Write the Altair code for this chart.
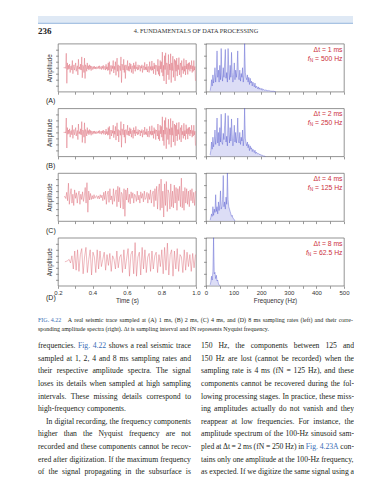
import altair as alt
import pandas as pd

# ---------------- data ----------------
trace_start = [0.232, 0.232, 0.235, 0.240]
trace_end = 0.997

# 1 ms / 2 ms trace (the two look identical at this scale)
trace_a = [
    0, 0, 0, 0.02, -0.03,
    0.6, -0.65, 0.2, -0.08,
    0.1, -0.05, 0.15, -0.2, 0.05, 0.08, -0.1, 0.3, -0.25, 0.05, 0.12, -0.1, 0.04, 0.2, -0.15,
    -0.02, 0.08, -0.3, 0.35, -0.05, 0.03, -0.08,
    0.15, -0.1, 0.45, -0.42, 0.1, 0.05, -0.2, 0.4, -0.45, 0.12, 0.05, -0.15, 0.2, -0.05, 0.08,
    -0.1, 0.12, -0.05, 0.08, -0.12, 0.06, 0.03, -0.08, 0.05, -0.04, 0.06,
    -0.05, 0.03, -0.06, 0.04, 0.02, -0.04, 0.06, -0.03, 0.08, -0.06, 0.02, 0.05, -0.08, 0.06,
    -0.03, 0.1, -0.08, 0.03, 0.06, -0.1, 0.14, -0.06, 0.04, -0.12,
    0.2, -0.1, 0.25, -0.28, 0.05, 0.1, -0.15, 0.08, -0.04, 0.3, -0.22, 0.06, -0.08, 0.25, -0.32, 0.1,
    0.4, -0.15, 0.12, -0.4, 0.08, 0.05, -0.12, 0.45, -0.62, 0.15, 0.05, -0.1, 0.35, -0.2, 0.1,
    -0.45, 0.12, 0.04, -0.1, 0.3, -0.12, 0.06, -0.15, 0.2,
    -0.06, 0.15, -0.2, 0.05, 0.08, -0.25, 0.2, -0.05, 0.1, -0.15, 0.25, -0.04, 0.02, -0.1, 0.12,
    -0.08, 0.05, 0.1, -0.15, 0.06, -0.02, 0.12, -0.2, 0.05, 0.08, -0.1, 0.22, -0.08, 0.03, -0.1,
    0.15, -0.18, 0.05, 0.04, -0.2, 0.25, -0.08, 0.05, -0.12, 0.28, -0.1, 0.06, -0.25, 0.2, -0.05,
    0.12, -0.3, 0.1, 0.05, -0.15, 0.35, -0.28, 0.08, -0.35, 0.3, -0.06,
    0.25, -0.2, 0.65, -0.35, 0.1, -0.55, 0.5, -0.08, 0.62, -0.68, 0.2, 0.1, -0.3, 0.55, -0.5,
    0.15, -0.1, 0.58, -0.62, 0.2, -0.12, 0.48, -0.4, 0.08, 0.35, -0.55, 0.3, -0.15, 0.4,
    -0.35, 0.12, -0.08, 0.42, -0.3, 0.06, 0.2, -0.4, 0.3, -0.1, 0.05, -0.25, 0.38, -0.15, 0.08,
    -0.3, 0.32, -0.06, 0.15, -0.28, 0.2, -0.08, 0.22,
    -0.15, 0.1, -0.05, 0.3, -0.2, 0.08, -0.15, 0.3, -0.1, 0.05, -0.55,
]

trace_c = [
    0, 0.03, -0.06, 0.2, -0.15, 0.58, -0.3, 0.1, 0.35, -0.25,
    0.12, -0.35, 0.3, -0.05, 0.18, -0.25, 0.08, 0.25, -0.3, 0.12,
    -0.1, 0.22, -0.18, 0.05, 0.4, -0.25, 0.6, -0.63, 0.25, -0.12,
    0.15, -0.1, 0.06, -0.08, 0.1, -0.05, 0.03, 0.06, -0.06, 0.05,
    -0.08, 0.1, -0.03, 0.08, -0.15, 0.2, -0.1, 0.25, -0.3, 0.12,
    0.25, -0.22, 0.35, -0.12, 0.05, -0.3, 0.35, -0.18, 0.1, 0.3,
    -0.4, 0.45, -0.2, 0.4, -0.45, 0.2, 0.12, -0.5, 0.35, -0.8,
    0.3, -0.12, 0.38, -0.22, 0.12, -0.28, 0.22, -0.05, 0.18, -0.25,
    0.12, 0.05, -0.18, 0.25, -0.12, 0.08, -0.25, 0.22, -0.05, 0.15,
    -0.2, 0.25, -0.1, -0.03, 0.2, -0.25, 0.15, -0.1, 0.3, -0.25,
    0.1, 0.25, -0.4, 0.35, -0.15, 0.45, -0.5, 0.25, 0.55, -0.55,
    0.75, -0.45, 0.25, -0.83, 0.55, -0.35, 0.65, -0.6, 0.3, 0.15,
    -0.5, 0.55, -0.4, 0.25, -0.45, 0.5, -0.25, 0.4, -0.55, 0.35,
    -0.15, 0.45, -0.4, 0.79, -0.45, 0.25, -0.55, 0.4, -0.25, 0.35,
    -0.3, 0.25, -0.4, 0.3, -0.15, 0.35, -0.25, 0.2, -0.35, 0.25,
]

trace_d = [
    0, 0.02, 0.05, 0.1, -0.05, 0.25, -0.3, 0.45, -0.35, 0.5,
    -0.4, 0.3, 0.55, -0.5, 0.2, 0.6, -0.45, 0.1, 0.5, -0.55,
    0.4, 0.2, -0.45, 0.5, -0.3, 0.45, -0.2, 0.1, 0.4, -0.35,
    0.3, -0.15, 0.35, -0.4, 0.25, 0.1, -0.3, 0.45, -0.25, 0.2,
    0.3, -0.45, 0.5, -0.3, 0.15, 0.55, -0.6, 0.3, 0.45, -0.5,
    0.8, -0.6, 0.2, 0.4, -0.55, 0.6, -0.3, 0.5, -0.45, 0.2,
    0.35, -0.4, 0.45, -0.3, 0.25, 0.4, -0.45, 0.3, -0.2, 0.5,
    -0.5, 0.6, -0.35, 0.78, -0.55, 0.3, 0.5, -0.6, 0.45, -0.3,
    0.55, -0.4, 0.3, 0.2, -0.45, 0.5, -0.35, 0.4, -0.2, 0.3,
    -0.4, 0.35, -0.25, 0.3,
]

spec_f0 = 15.0   # Hz, first spectral sample
spec_df = 2.5    # Hz, spectral sample spacing

spec_a = [
    0.02, 0.1, 0.25, 0.12, 0.35, 0.18, 0.3, 0.5, 0.2, 0.4,
    0.85, 0.3, 0.45, 0.2, 0.55, 0.25, 0.9, 0.35, 0.22, 0.5,
    0.3, 0.6, 0.88, 0.28, 0.4, 0.2, 0.9, 0.45, 0.25, 0.55,
    0.3, 0.82, 0.4, 0.2, 0.35, 0.6, 0.25, 0.45, 0.3, 0.5,
    0.85, 0.3, 0.25, 0.45, 0.22, 0.38, 0.3, 0.5, 0.2, 0.35,
    1.0, 0.4, 0.3, 0.25, 0.35, 0.2, 0.3, 0.15, 0.28, 0.18,
    0.22, 0.12, 0.2, 0.15, 0.1, 0.18, 0.08, 0.12, 0.1, 0.06,
    0.1, 0.05, 0.08, 0.06, 0.04, 0.07, 0.03, 0.05, 0.04, 0.03,
    0.04, 0.02, 0.03, 0.02, 0.03, 0.015, 0.02, 0.01, 0.015, 0.01,
    0.01, 0.008, 0.01, 0.005, 0.005, 0,
]
spec_b = [
    0.03, 0.12, 0.3, 0.15, 0.4, 0.2, 0.32, 0.55, 0.25, 0.42,
    0.8, 0.28, 0.5, 0.22, 0.6, 0.3, 0.88, 0.3, 0.25, 0.48,
    0.35, 0.65, 0.9, 0.3, 0.42, 0.22, 0.85, 0.5, 0.28, 0.6,
    0.32, 0.78, 0.45, 0.22, 0.38, 0.65, 0.3, 0.5, 0.28, 0.45,
    0.8, 0.32, 0.28, 0.5, 0.25, 0.4, 0.32, 0.55, 0.22, 0.38,
    1.0, 0.38, 0.28, 0.22, 0.3, 0.18, 0.25, 0.12, 0.22, 0.15,
    0.18, 0.1, 0.15, 0.12, 0.08, 0.13, 0.06, 0.09, 0.07, 0.05,
    0.06, 0.04, 0.05, 0.03, 0.03, 0.02, 0.02, 0.01, 0.01, 0.005,
    0,
]
spec_c = [
    0.02, 0.08, 0.15, 0.1, 0.3, 0.12, 0.25, 0.18, 0.55, 0.2,
    0.3, 0.15, 0.4, 0.22, 0.35, 0.63, 0.25, 0.3, 0.45, 0.95,
    0.3, 0.4, 0.25, 0.5, 0.35, 1.0, 0.45, 0.3, 0.25, 0.2,
    0.15, 0.1, 0.12, 0.06, 0.05, 0.03, 0.0,
]
spec_d = [0.02, 0.08, 0.2, 0.12, 0.3, 1.0, 0.25, 0.28, 0.15, 0.22,
          0.1, 0.12, 0.05, 0.02, 0.0]

dt_labels = ["\u0394t = 1 ms", "\u0394t = 2 ms", "\u0394t = 4 ms", "\u0394t = 8 ms"]
fn_values = ["= 500 Hz", "= 250 Hz", "= 125 Hz", "= 62.5 Hz"]
panel_labels = ["(A)", "(B)", "(C)", "(D)"]
time_ticks = [0.2, 0.3, 0.4, 0.5, 0.6, 0.7, 0.8, 0.9, 1.0]
freq_ticks = [0, 50, 100, 150, 200, 250, 300, 350, 400, 450, 500]
amp_ticks = [-0.75, -0.5, -0.25, 0, 0.25, 0.5, 0.75]
spec_ticks = [0, 0.25, 0.5, 0.75, 1.0]

header_num = "236"
header_title = "4. FUNDAMENTALS OF DATA PROCESSING"
caption_fig = "FIG. 4.22"
caption_1 = ("A real seismic trace sampled at (A) 1 ms, (B) 2 ms, (C) 4 ms, and (D) 8 ms "
             "sampling rates (left) and their corre-")
caption_2 = ("sponding amplitude spectra (right). \u0394t is sampling interval and fN "
             "represents Nyquist frequency.")
body_left = [
    "frequencies. Fig. 4.22 shows a real seismic trace",
    "sampled at 1, 2, 4 and 8 ms sampling rates and",
    "their respective amplitude spectra. The signal",
    "loses its details when sampled at high sampling",
    "intervals. These missing details correspond to",
    "high-frequency components.",
    "In digital recording, the frequency components",
    "higher than the Nyquist frequency are not",
    "recorded and these components cannot be recov-",
    "ered after digitization. If the maximum frequency",
    "of the signal propagating in the subsurface is",
]
body_right = [
    "150 Hz, the components between 125 and",
    "150 Hz are lost (cannot be recorded) when the",
    "sampling rate is 4 ms (fN = 125 Hz), and these",
    "components cannot be recovered during the fol-",
    "lowing processing stages. In practice, these miss-",
    "ing amplitudes actually do not vanish and they",
    "reappear at low frequencies. For instance, the",
    "amplitude spectrum of the 100-Hz sinusoid sam-",
    "pled at \u0394t = 2 ms (fN = 250 Hz) in Fig. 4.23A con-",
    "tains only one amplitude at the 100-Hz frequency,",
    "as expected. If we digitize the same signal using a",
]
left_ragged = [5]      # last line of a paragraph (not justified)
left_indent = {6: 8}   # paragraph indent

# ---------------- style / layout ----------------
W, H = 138, 48
ROW_GAP, COL_GAP = 16.7, 10
H_HEAD, H_CAP, H_BODY = 10.3, 22.5, 130
RED = "#dc6472"
BLUE_LINE = "#3439c4"
BLUE_FILL = "#c4c7f0"
ANN_RED = "#cc2f3b"
FRAME = "#666666"
TEXT = "#231f20"
LINK = "#3a6db5"
SANS = "Liberation Sans"
SERIF = "Liberation Serif"

# Times (Liberation Serif) advance widths, per 1000 em
TW = {}
for chars, w in [(" ,.", 250), ("()-frI[]'", 333), ("iltj:;/", 278),
                 ("0123456789bdghknopquvxy", 500), ("acez?", 444), ("sJ", 389),
                 ("m", 778), ("w", 722), ("ADGHKNOQUVXY", 722), ("BCR", 667),
                 ("ELTZ", 611), ("FPS", 556), ("M", 889), ("W", 944),
                 ("=+", 564), ("\u0394", 612)]:
    for ch in chars:
        TW[ch] = w


def tw(s):
    return sum(TW.get(ch, 500) for ch in s) / 1000.0


# Arial (Liberation Sans) widths for the red annotations
AW = {" ": 278, "=": 584, ".": 278, "H": 722, "z": 500, "N": 722, "f": 278}


def aw(s):
    return sum(AW.get(ch, 556) for ch in s) / 1000.0


def fit_fs(lines, avail, fs_max, indents=None):
    fs = fs_max
    for i, line in enumerate(lines):
        words = line.split(" ")
        a = avail - (indents or {}).get(i, 0)
        em = sum(tw(w) for w in words) + 0.2 * (len(words) - 1)
        fs = min(fs, a / em)
    return fs


def words_df(lines, x0, width, fs, y0, lh, ragged=(), indents=None):
    rows = []
    for i, line in enumerate(lines):
        words = line.split(" ")
        ind = (indents or {}).get(i, 0)
        ws = [tw(w) * fs for w in words]
        if i in ragged or len(words) < 2:
            gap = 0.25 * fs
        else:
            gap = (width - ind - sum(ws)) / (len(words) - 1)
        x = x0 + ind
        blue_next = False
        for w, wd in zip(words, ws):
            col = TEXT
            if w == "Fig." or blue_next:
                col = LINK
            blue_next = (w == "Fig.")
            rows.append({"x": x, "y": y0 + i * lh, "w": w, "c": col})
            x += wd + gap
    return pd.DataFrame(rows)


def text_layer(df, fs, height):
    return alt.Chart(df).mark_text(
        align="left", baseline="middle", font=SERIF, fontSize=fs
    ).encode(
        x=alt.X("x:Q", scale=alt.Scale(domain=[0, W], nice=False, zero=False), axis=None),
        y=alt.Y("y:Q", scale=alt.Scale(domain=[0, height], nice=False, zero=False, reverse=True),
                axis=None),
        text="w:N",
        color=alt.Color("c:N", scale=None),
    )


NOFRAME = alt.ViewBackground(strokeOpacity=0)
FRAMED = alt.ViewBackground(stroke=FRAME, strokeWidth=0.7, strokeOpacity=1)
one = pd.DataFrame({"d": [0]})


def blank(h):
    return alt.Chart(one).mark_point(opacity=0).encode(
        x=alt.value(0), y=alt.value(0)
    ).properties(width=W, height=h, view=NOFRAME)


def left_panel(i, vals, last):
    t0 = trace_start[i]
    n = len(vals)
    df = pd.DataFrame({"t": [t0 + k * (trace_end - t0) / (n - 1) for k in range(n)], "a": vals})
    xax = alt.Axis(values=time_ticks, labels=last, title="Time (s)" if last else "",
                   labelExpr="round(datum.value*10) % 2 == 0 ? format(datum.value, '.1f') : ''",
                   labelFlush=False, labelOverlap=False)
    line = alt.Chart(df).mark_line(color=RED, strokeWidth=0.45).encode(
        x=alt.X("t:Q", scale=alt.Scale(domain=[0.2, 1.0], nice=False, zero=False), axis=xax),
        y=alt.Y("a:Q", scale=alt.Scale(domain=[-1, 1], nice=False),
                axis=alt.Axis(values=amp_ticks, labels=False, title="Amplitude", titlePadding=3)),
    )
    lab = alt.Chart(pd.DataFrame({"s": [panel_labels[i]]})).mark_text(
        align="left", baseline="middle", font=SANS, fontSize=7, color="#222"
    ).encode(x=alt.value(-12), y=alt.value(H + (12 if last else 9.5)), text="s:N")
    return alt.layer(line, lab).properties(width=W, height=H, view=FRAMED)


def right_panel(i, vals, last):
    n = len(vals)
    df = pd.DataFrame({"f": [spec_f0 + k * spec_df for k in range(n)], "s": vals})
    xax = alt.Axis(values=freq_ticks, labels=last, title="Frequency (Hz)" if last else "",
                   labelExpr="datum.value % 100 == 0 ? datum.label : ''",
                   labelFlush=False, labelOverlap=False)
    x = alt.X("f:Q", scale=alt.Scale(domain=[0, 500], nice=False, zero=False), axis=xax)
    y = alt.Y("s:Q", scale=alt.Scale(domain=[0, 1], nice=False),
              axis=alt.Axis(values=spec_ticks, labels=False, title=""))
    area = alt.Chart(df).mark_area(color=BLUE_FILL, opacity=0.6).encode(x=x, y=y)
    line = alt.Chart(df).mark_line(color=BLUE_LINE, strokeWidth=0.35).encode(x=x, y=y)

    fs = 6.8
    fsn = 4.8
    xr = W - 1.5
    x_n = xr - aw(" " + fn_values[i]) * fs
    x_f = x_n - aw("N") * fsn
    base = dict(baseline="middle", font=SANS, color=ANN_RED, align="right")
    t1 = alt.Chart(pd.DataFrame({"s": [dt_labels[i]]})).mark_text(fontSize=fs, **base).encode(
        x=alt.value(xr), y=alt.value(6), text="s:N")
    t2 = alt.Chart(pd.DataFrame({"s": [fn_values[i]]})).mark_text(fontSize=fs, **base).encode(
        x=alt.value(xr), y=alt.value(15), text="s:N")
    t3 = alt.Chart(pd.DataFrame({"s": ["N"]})).mark_text(fontSize=fsn, **base).encode(
        x=alt.value(x_n), y=alt.value(17), text="s:N")
    t4 = alt.Chart(pd.DataFrame({"s": ["f"]})).mark_text(fontSize=fs, fontStyle="italic", **base).encode(
        x=alt.value(x_f), y=alt.value(15), text="s:N")
    return alt.layer(area, line, t1, t2, t3, t4).properties(width=W, height=H, view=FRAMED)


# header (page band + running head)
band = alt.Chart(one).mark_rect(color="#dfe9f5").encode(
    x=alt.value(-20), x2=alt.value(295), y=alt.value(0), y2=alt.value(7))
band_rule = alt.Chart(one).mark_rule(color="#93b4dc", strokeWidth=1).encode(
    x=alt.value(-20), x2=alt.value(295), y=alt.value(7.3))
h_num = alt.Chart(pd.DataFrame({"s": [header_num]})).mark_text(
    align="left", baseline="middle", font=SERIF, fontSize=9, fontWeight="bold", color="#222"
).encode(x=alt.value(-20), y=alt.value(14.5), text="s:N")
h_title = alt.Chart(pd.DataFrame({"s": [header_title]})).mark_text(
    align="center", baseline="middle", font=SERIF, fontSize=6.3, color="#333"
).encode(x=alt.value(W), y=alt.value(15), text="s:N")
header = alt.layer(band, band_rule, h_num, h_title).properties(width=W, height=H_HEAD, view=NOFRAME)

# caption
cap_x0, cap_x1 = 9.7, 295
cap_fs = fit_fs([caption_1], cap_x1 - cap_x0, 6.0)
cap1 = words_df([caption_1], cap_x0, cap_x1 - cap_x0, cap_fs, 17.7, 8.5)
cap2 = words_df([caption_2], -20, 315, cap_fs, 26.2, 8.5, ragged=(0,))
capf = pd.DataFrame({"x": [-20], "y": [17.7], "w": [caption_fig], "c": [LINK]})
cap_df = pd.concat([capf, cap1, cap2], ignore_index=True)
caption = text_layer(cap_df, cap_fs, H_CAP).properties(width=W, height=H_CAP, view=NOFRAME)

# body text, two justified columns
body_fs = min(fit_fs(body_left, 153, 7.7, left_indent), fit_fs(body_right, 153, 7.7))
bl = words_df(body_left, -20, 153, body_fs, 4, 12.6, ragged=left_ragged, indents=left_indent)
br = words_df(body_right, -5, 153, body_fs, 4, 12.6)
body_l = text_layer(bl, body_fs, H_BODY).properties(width=W, height=H_BODY, view=NOFRAME)
body_r = text_layer(br, body_fs, H_BODY).properties(width=W, height=H_BODY, view=NOFRAME)

left_traces = [trace_a, trace_a, trace_c, trace_d]
spectra = [spec_a, spec_b, spec_c, spec_d]
cells = [header, blank(H_HEAD)]
for i in range(4):
    cells.append(left_panel(i, left_traces[i], i == 3))
    cells.append(right_panel(i, spectra[i], i == 3))
cells += [caption, blank(H_CAP), body_l, body_r]

chart = alt.concat(
    *cells, columns=2, spacing={"row": ROW_GAP, "column": COL_GAP}, bounds="flush"
).properties(
    padding={"left": 29, "top": 5, "right": 0, "bottom": 0}, background="white"
).configure_axis(
    labelFont=SANS, titleFont=SANS, labelFontSize=6, titleFontSize=6.3,
    titleFontWeight="normal", labelColor="#333", titleColor="#333",
    tickColor="#555", tickSize=2.5, tickWidth=0.6, domain=False, grid=False,
    labelPadding=1, titlePadding=2,
).configure_view(strokeOpacity=0)

chart.save("out.html", embed_options={"renderer": "svg", "actions": False})
